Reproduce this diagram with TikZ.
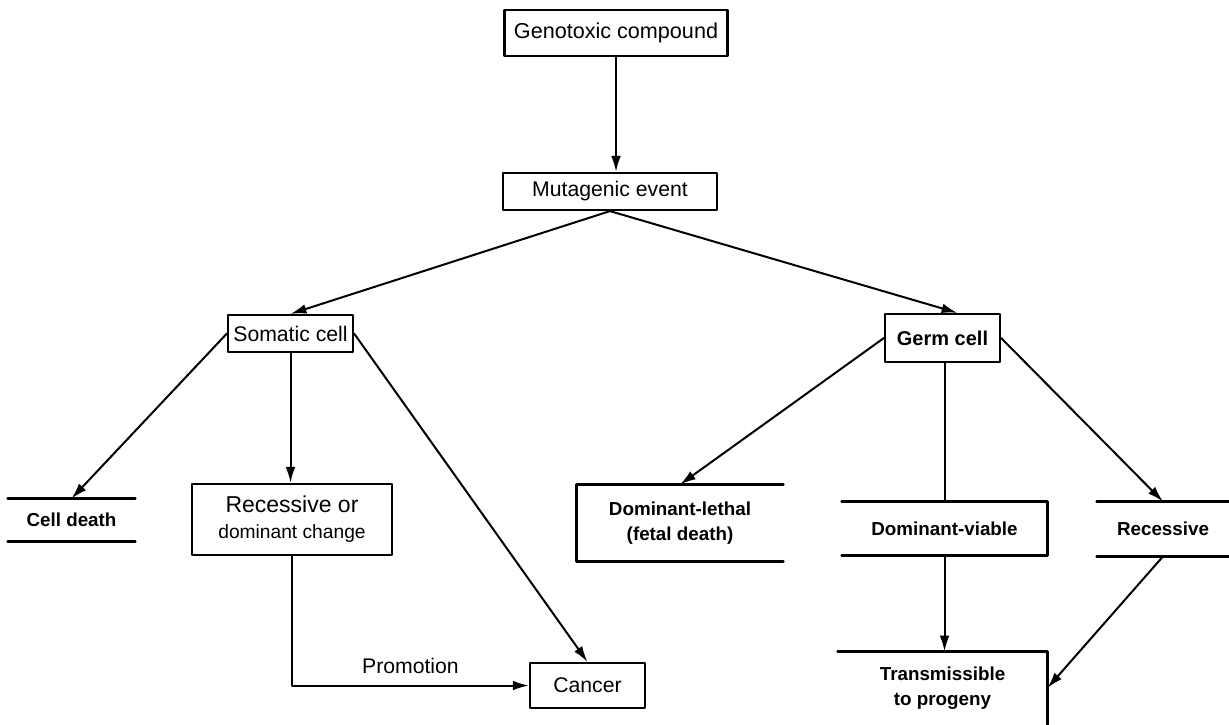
\documentclass[tikz,border=0pt]{standalone}
\usepackage{fontspec}
\setmainfont{Liberation Sans}
\usetikzlibrary{arrows.meta,calc}
\tikzset{
  flowbox/.style={draw, line width=1.1pt, inner sep=0pt, align=center},
  openbox/.style={inner sep=0pt, align=center},
  flowarrow/.style={line width=1pt, -{Latex[length=2.8mm, width=1.7mm]}},
  flowline/.style={line width=1pt},
  sidelines/.style={line width=1.3pt},
  plaintxt/.style={font=\fontsize{10.6}{12.5}\selectfont},
  boldtxt/.style={font=\fontsize{9.4}{12.5}\selectfont\bfseries},
}

\begin{document}
\begin{tikzpicture}[x=0.5pt, y=-0.5pt, line cap=round, line join=round]
  \useasboundingbox (0,0) rectangle (1229,724);

  % ---- Top of the chain ----
  \node[flowbox, plaintxt, font=\fontsize{10.8}{13}\selectfont,
        minimum width=111.5pt, minimum height=23pt] (genotox) at (616,33)
    {Genotoxic compound};
  \node[flowbox, plaintxt, minimum width=107pt, minimum height=18.5pt]
    (mutagenic) at (610,191.5) {Mutagenic event};

  % ---- Cell types ----
  \node[flowbox, plaintxt, minimum width=62.5pt, minimum height=18.5pt]
    (somatic) at (290.5,333.5) {Somatic cell};
  \node[flowbox, boldtxt, font=\fontsize{10}{12}\selectfont\bfseries,
        minimum width=57.5pt, minimum height=24pt]
    (germ) at (942.5,338) {Germ cell};

  % ---- Somatic outcomes ----
  \node[openbox, boldtxt, minimum width=63.5pt, minimum height=21pt]
    (celldeath) at (71.5,520) {Cell death};
  \draw[sidelines] (celldeath.north west) -- (celldeath.north east);
  \draw[sidelines] (celldeath.south west) -- (celldeath.south east);

  \node[flowbox, minimum width=100pt, minimum height=35.5pt]
    (recdom) at (292,519.5)
    {{\fontsize{11.5}{13}\selectfont Recessive or}\\[1pt]
     {\fontsize{9.6}{12}\selectfont dominant change}};

  \node[flowbox, plaintxt, minimum width=57.5pt, minimum height=22.5pt]
    (cancer) at (587.5,685.5) {Cancer};

  % ---- Germ cell outcomes ----
  \node[openbox, boldtxt, minimum width=103pt, minimum height=38pt]
    (domlethal) at (680,523) {Dominant-lethal\\(fetal death)};
  \draw[sidelines] (domlethal.north east) -- (domlethal.north west)
    -- (domlethal.south west) -- (domlethal.south east);

  \node[openbox, boldtxt, minimum width=102.5pt, minimum height=26.5pt]
    (domviable) at (944.5,528.5) {Dominant-viable};
  \draw[sidelines] (domviable.north west) -- (domviable.north east)
    -- (domviable.south east) -- (domviable.south west);

  \node[openbox, boldtxt, minimum width=66pt, minimum height=27pt]
    (recessive) at (1163,529) {Recessive};
  \draw[sidelines] (recessive.north west) -- (recessive.north east);
  \draw[sidelines] (recessive.south west) -- (recessive.south east);

  \node[openbox, boldtxt, minimum width=104.5pt, minimum height=36pt]
    (transmit) at (942.5,688) {Transmissible\\to progeny};
  \draw[sidelines] (transmit.north west) -- (transmit.north east)
    -- (transmit.south east);

  % ---- Connectors ----
  \draw[flowarrow] (genotox.south) -- (genotox.south |- mutagenic.north);
  \draw[flowarrow] (mutagenic.south) -- (somatic.north);
  \draw[flowarrow] (mutagenic.south) -- ($(germ.north)+(15,0)$);

  \draw[flowarrow] (somatic.west) -- (celldeath.north);
  \draw[flowarrow] (somatic.south) -- (somatic.south |- recdom.north);
  \draw[flowarrow] (somatic.east) -- (cancer.north);
  \draw[flowarrow] (recdom.south) -- (recdom.south |- cancer.west)
    -- node[above=2pt, plaintxt] (promo) {Promotion} (cancer.west);

  \draw[flowarrow] (germ.west) -- (domlethal.north);
  \draw[flowline] (domviable.north |- germ.south) -- (domviable.north);
  \draw[flowarrow] (germ.east) -- (recessive.north);
  \draw[flowarrow] (domviable.south) -- (domviable.south |- transmit.north);
  \draw[flowarrow] (recessive.south) -- (transmit.east);
\end{tikzpicture}
\end{document}
